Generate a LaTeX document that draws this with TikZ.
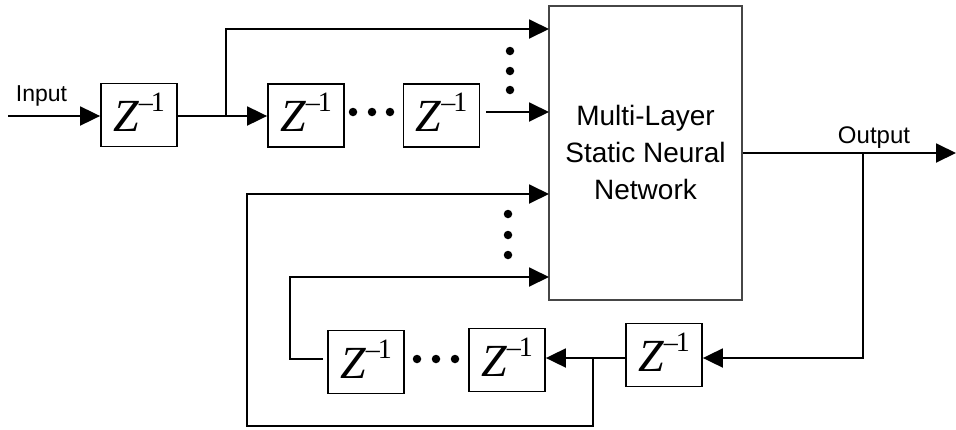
\documentclass[tikz,border=0pt]{standalone}
\usepackage{fontspec}
\setmainfont{Liberation Sans}
\newfontfamily\tmsfont{Liberation Serif}
\usetikzlibrary{arrows.meta,calc}
\newcommand\zinv{{\tmsfont\fontsize{46}{46}\selectfont\itshape Z}\raisebox{20pt}{\tmsfont\fontsize{28}{28}\selectfont –\kern-2pt1}}
\begin{document}
\begin{tikzpicture}[x=1pt,y=-1pt,
  zbox/.style={draw, line width=1.8pt, minimum width=76pt, minimum height=63pt, inner sep=0pt, text depth=6pt},
  wire/.style={line width=1.9pt},
  arr/.style={wire, -{Triangle[length=20pt,width=19pt]}},
  dot/.style={circle, fill, inner sep=0pt, minimum size=8.5pt}]
\useasboundingbox (0,0) rectangle (956,429);
% boxes
\node[zbox] (b1) at (139,115) {\zinv};
\node[zbox] (b2) at (306,115.5) {\zinv};
\node[zbox] (b3) at (441.5,115.5) {\zinv};
\node[zbox] (b4) at (366,362) {\zinv};
\node[zbox] (b5) at (507,360) {\zinv};
\node[zbox] (b6) at (664,355) {\zinv};
\node[draw=gray!55!black, line width=1.6pt, minimum width=193pt, minimum height=294pt] (nn) at (645.5,153) {};
\node[font=\fontsize{28}{37}\selectfont, align=center] (nnt) at (645.5,152) {Multi-Layer\\Static Neural\\Network};
% labels
\node[font=\fontsize{23}{23}\selectfont, anchor=base] (inl) at (41.5,101.5) {Input};
\node[font=\fontsize{24}{24}\selectfont, anchor=base] (outl) at (874,143) {Output};
% dots
\node[dot] (h1) at (353,112) {};
\node[dot] (h2) at (372,112) {};
\node[dot] (h3) at (390,112) {};
\node[dot] (v1) at (510,51) {};
\node[dot] (v2) at (510,71) {};
\node[dot] (v3) at (510,90) {};
\node[dot] (v4) at (508,214) {};
\node[dot] (v5) at (508,235) {};
\node[dot] (v6) at (508,255) {};
\node[dot] (h4) at (417,359) {};
\node[dot] (h5) at (436,359) {};
\node[dot] (h6) at (455,359) {};
% coordinates
\coordinate (in) at (8,116);
\coordinate (br1) at (226,116);
\coordinate (i1) at (549,29);
\coordinate (i2) at (549,112);
\coordinate (out) at (956,153);
\coordinate (br2) at (863,153);
\coordinate (fb) at (702,358);
\coordinate (br3) at (593,358);
\coordinate (c2) at (247,426);
\coordinate (i3) at (549,194);
\coordinate (c0) at (323,359);
\coordinate (c1) at (290,277);
\coordinate (i4) at (549,277);
% wires
\draw[arr] (in) -- (b1.west |- in);
\draw[arr] (b1.east |- br1) -- (b2.west |- br1);
\draw[arr] (br1) |- (i1);
\draw[arr] ([xshift=6pt]b3.east |- i2) -- (i2);
\draw[arr] (nn.east) -- (out);
\draw[arr] (br2) |- (b6.east |- fb);
\draw[arr] (b6.west |- br3) -- (b5.east |- br3);
\draw[arr] (br3) |- (c2) |- (i3);
\draw[arr] (c0) -| (c1) -- (i4);
\end{tikzpicture}
\end{document}
